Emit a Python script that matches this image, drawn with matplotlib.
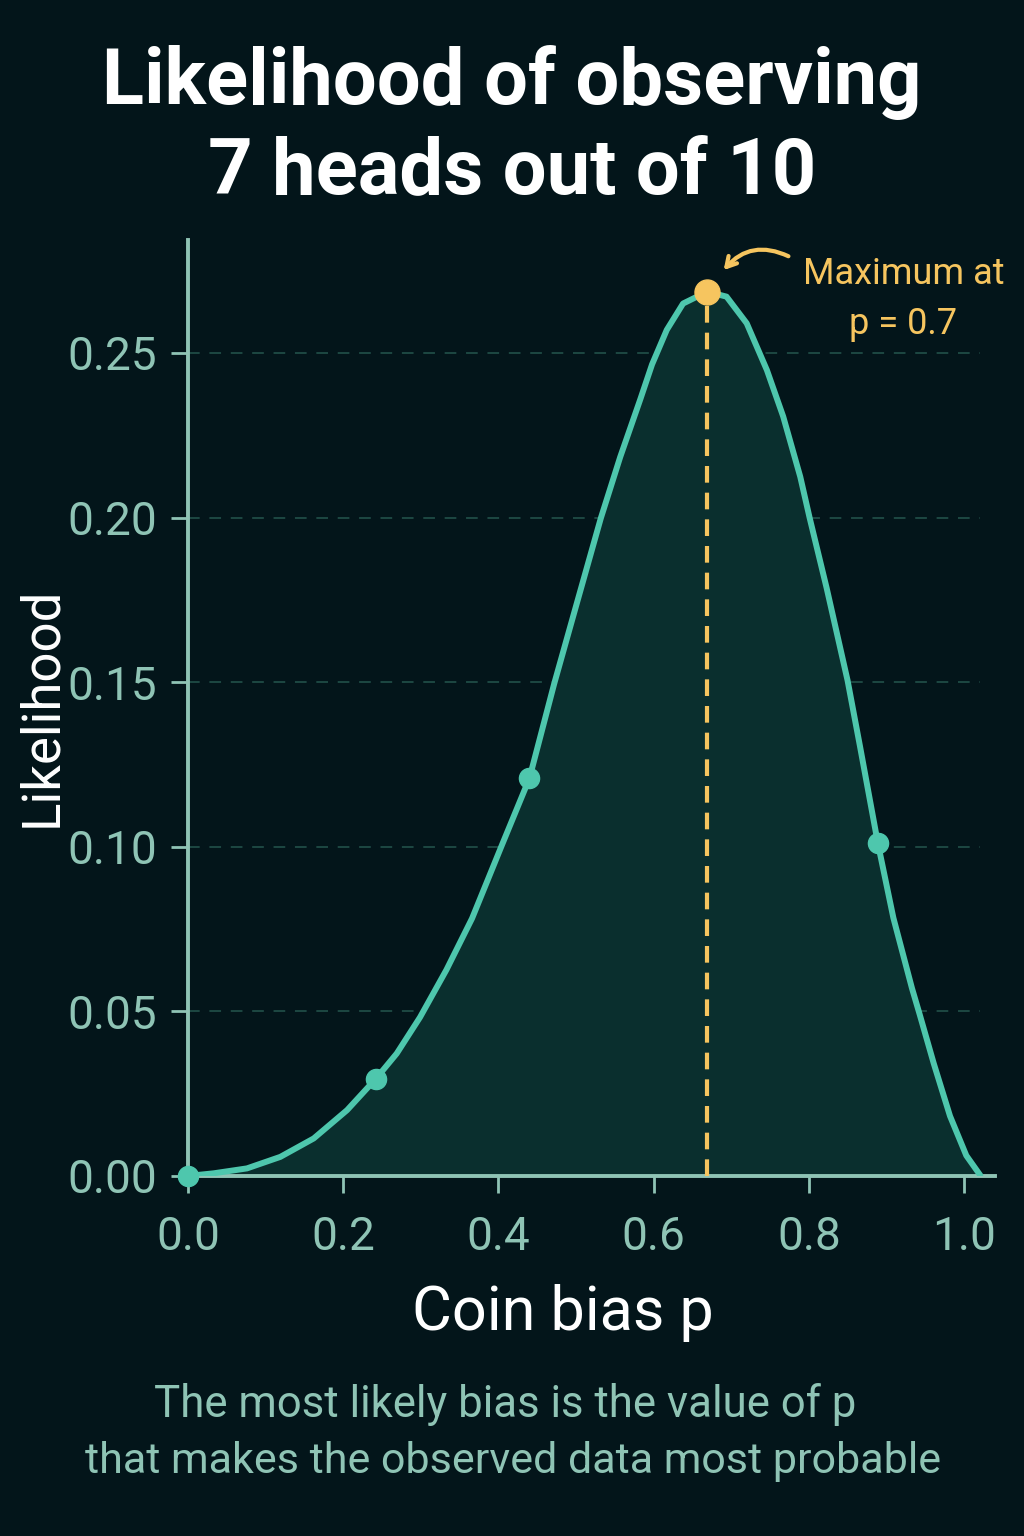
import matplotlib
matplotlib.use("Agg")
from matplotlib import pyplot as plt

# values
p_vals = [0.0, 0.033, 0.076, 0.119, 0.162, 0.205, 0.242, 0.269, 0.299, 0.333,
          0.366, 0.404, 0.440, 0.472, 0.501, 0.532, 0.557, 0.583, 0.598, 0.617,
          0.638, 0.669, 0.694, 0.720, 0.746, 0.767, 0.789, 0.801, 0.823, 0.850,
          0.866, 0.889, 0.909, 0.933, 0.943, 0.961, 0.982, 1.003, 1.021]
lik_vals = [0.0, 0.0008, 0.0023, 0.0058, 0.0114, 0.0200, 0.0295, 0.0372, 0.0482, 0.0626,
            0.0782, 0.1002, 0.1208, 0.1496, 0.1739, 0.1998, 0.2184, 0.2360, 0.2465, 0.2570,
            0.2650, 0.2686, 0.2671, 0.2590, 0.2448, 0.2307, 0.2124, 0.2000, 0.1786, 0.1505,
            0.1305, 0.1011, 0.0784, 0.0570, 0.0490, 0.0342, 0.0182, 0.0062, 0.0002]

dot_p = [0.0, 0.242, 0.440, 0.889]
dot_lik = [0.0, 0.0295, 0.1208, 0.1011]
peak_p = 0.669
peak_lik = 0.2686

xticks = [0.0, 0.2, 0.4, 0.6, 0.8, 1.0]
yticks = [0.0, 0.05, 0.10, 0.15, 0.20, 0.25]

bg = "#03151a"
teal = "#4ec7ad"
fill_c = "#0a2f2e"
gold = "#f6c55f"
pale = "#8fc4b5"
grid_c = "#1d4843"

plt.rcParams["font.family"] = ["Roboto", "DejaVu Sans"]

fig = plt.figure(figsize=(10.24, 15.36), dpi=100, facecolor=bg)
ax = fig.add_axes([0.1836, 0.2344, 0.9717 - 0.1836, 0.84375 - 0.2344])
ax.set_facecolor(bg)

for y in yticks[1:]:
    ax.plot([0, 1.02], [y, y], color=grid_c, lw=1.4, ls=(0, (6, 5)), zorder=1)

ax.fill_between(p_vals, lik_vals, 0, color=fill_c, zorder=2, lw=0)
ax.plot(p_vals, lik_vals, color=teal, lw=4.3, zorder=4, solid_joinstyle="round",
        solid_capstyle="round")
ax.plot([peak_p, peak_p], [0, peak_lik], color=gold, lw=3.0, ls=(0, (4, 2.4)), zorder=3)
ax.plot(dot_p, dot_lik, "o", color=teal, ms=14.5, zorder=5, clip_on=False)
ax.plot([peak_p], [peak_lik], "o", color=gold, ms=18, zorder=6, clip_on=False)

ax.annotate("", xy=(0.688, 0.2745), xytext=(0.777, 0.2790),
            arrowprops=dict(arrowstyle="->,head_length=0.7,head_width=0.4", color=gold,
                            lw=3.0, connectionstyle="arc3,rad=0.4"))
ax.text(0.922, 0.2740, "Maximum at", color=gold, fontsize=26, ha="center", va="center")
ax.text(0.922, 0.2588, "p = 0.7", color=gold, fontsize=26, ha="center", va="center")

ax.set_xlim(0, 1.04)
ax.set_ylim(0, 0.2843)
ax.set_xticks(xticks)
ax.set_xticklabels(["0.0", "0.2", "0.4", "0.6", "0.8", "1.0"])
ax.set_yticks(yticks)
ax.set_yticklabels(["0.00", "0.05", "0.10", "0.15", "0.20", "0.25"])
ax.tick_params(colors=pale, labelsize=33, length=12, width=2)
ax.tick_params(axis="x", pad=16)
ax.tick_params(axis="y", pad=10)
for s in ["top", "right"]:
    ax.spines[s].set_visible(False)
for s in ["left", "bottom"]:
    ax.spines[s].set_color(pale)
    ax.spines[s].set_linewidth(2.8)

fig.text(0.5, 0.9466, "Likelihood of observing", color="white", fontsize=56,
         fontweight="bold", ha="center", va="center")
fig.text(0.5, 1 - 172 / 1536, "7 heads out of 10", color="white", fontsize=56,
         fontweight="bold", ha="center", va="center")
fig.text(0.5498, 1 - 1313 / 1536, "Coin bias p", color="white", fontsize=44,
         ha="center", va="center")
fig.text(42 / 1024, 1 - 707 / 1536, "Likelihood", color="white", fontsize=38,
         rotation=90, ha="center", va="center")
fig.text(505 / 1024, 1 - 1404 / 1536, "The most likely bias is the value of p",
         color=pale, fontsize=31.5, ha="center", va="center")
fig.text(513 / 1024, 1 - 1461 / 1536, "that makes the observed data most probable",
         color=pale, fontsize=31, ha="center", va="center")

fig.savefig("out.png", dpi=100, facecolor=bg)
